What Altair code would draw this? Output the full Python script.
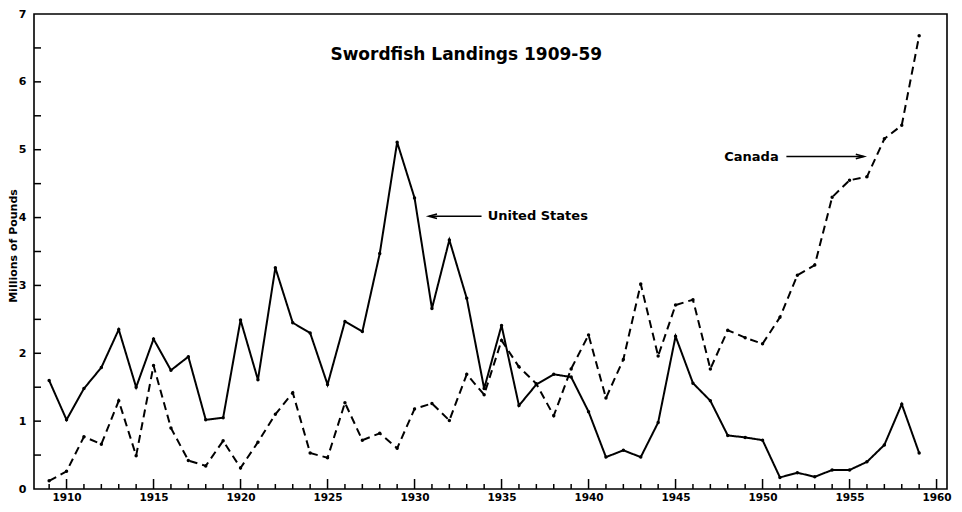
import altair as alt
import pandas as pd

years = list(range(1909, 1960))

us = [1.60, 1.02, 1.48, 1.79, 2.35, 1.50, 2.21, 1.75, 1.95, 1.02,
      1.05, 2.49, 1.61, 3.26, 2.45, 2.30, 1.54, 2.47, 2.32, 3.47,
      5.11, 4.29, 2.66, 3.67, 2.81, 1.48, 2.41, 1.23, 1.54, 1.69,
      1.65, 1.14, 0.47, 0.57, 0.47, 0.98, 2.25, 1.56, 1.30, 0.79,
      0.76, 0.72, 0.17, 0.24, 0.18, 0.28, 0.28, 0.40, 0.65, 1.25,
      0.53]

canada = [0.12, 0.26, 0.77, 0.66, 1.30, 0.49, 1.82, 0.90, 0.42, 0.34,
          0.71, 0.31, 0.69, 1.10, 1.42, 0.53, 0.46, 1.27, 0.72, 0.82,
          0.60, 1.18, 1.26, 1.01, 1.69, 1.39, 2.19, 1.80, 1.55, 1.08,
          1.77, 2.27, 1.34, 1.91, 3.02, 1.96, 2.71, 2.79, 1.77, 2.34,
          2.23, 2.14, 2.53, 3.15, 3.30, 4.30, 4.55, 4.60, 5.16, 5.36,
          6.68]

x_label_years = [1910, 1915, 1920, 1925, 1930, 1935, 1940, 1945, 1950, 1955, 1960]
x_minor_years = [y for y in range(1909, 1961) if y % 5 != 0]
y_tick_values = [0.5, 1, 1.5, 2, 2.5, 3, 3.5, 4, 4.5, 5, 5.5, 6, 6.5]
y_label_values = [0, 1, 2, 3, 4, 5, 6, 7]

title_text = "Swordfish Landings 1909-59"
us_label = "United States"
canada_label = "Canada"

df = pd.DataFrame({
    "year": years * 2,
    "value": us + canada,
    "country": ["United States"] * len(years) + ["Canada"] * len(years),
})

FONT = "DejaVu Sans"
W, H = 913, 475

x_scale = alt.Scale(domain=[1908.13, 1960.6], nice=False, zero=False)
y_scale = alt.Scale(domain=[0, 7], nice=False, zero=True)

X = alt.X("year:Q", scale=x_scale,
          axis=alt.Axis(values=x_label_years, format="d", title=None,
                        labelPadding=3, labelFlush=False, labelFontSize=10.5))
Y = alt.Y("value:Q", scale=y_scale,
          axis=alt.Axis(values=y_label_values, format="d",
                        title="Millions of Pounds", labelPadding=8,
                        titleX=-21, titleY=H / 2 - 6, titleAngle=-90,
                        titleBaseline="middle", titleAlign="center",
                        titleFontSize=11, titleFontWeight="bold",
                        titleFont=FONT))

lines = alt.Chart(df).mark_line(color="black", strokeWidth=2).encode(
    x=X, y=Y,
    strokeDash=alt.StrokeDash(
        "country:N",
        scale=alt.Scale(domain=["United States", "Canada"], range=[[1, 0], [8, 5]]),
        legend=None),
    detail="country:N",
)

dots = alt.Chart(df).mark_circle(color="black", size=12, opacity=1).encode(
    x=alt.X("year:Q", scale=x_scale), y=alt.Y("value:Q", scale=y_scale))

minor_df = pd.DataFrame({"year": x_minor_years})
major_df = pd.DataFrame({"year": x_label_years})
ytick_df = pd.DataFrame({"value": y_tick_values})

x_minor = alt.Chart(minor_df).mark_rule(color="black", strokeWidth=1.5).encode(
    x=alt.X("year:Q", scale=x_scale), y=alt.value(H), y2=alt.value(H - 5))
x_major = alt.Chart(major_df).mark_rule(color="black", strokeWidth=1.5).encode(
    x=alt.X("year:Q", scale=x_scale), y=alt.value(H), y2=alt.value(H - 10))
y_ticks = alt.Chart(ytick_df).mark_rule(color="black", strokeWidth=1.5).encode(
    y=alt.Y("value:Q", scale=y_scale), x=alt.value(0), x2=alt.value(7))

one = pd.DataFrame({"a": [0]})

title = alt.Chart(one).mark_text(
    text=title_text, font=FONT, fontSize=17, fontWeight="bold",
    align="center", baseline="middle", color="black").encode(
    x=alt.datum(1932.97, scale=x_scale), y=alt.datum(6.40, scale=y_scale))

us_text = alt.Chart(one).mark_text(
    text=us_label, font=FONT, fontSize=13, fontWeight="bold",
    align="left", baseline="middle", color="black").encode(
    x=alt.datum(1934.2), y=alt.datum(4.02))
us_line = alt.Chart(one).mark_rule(color="black", strokeWidth=1.5).encode(
    x=alt.datum(1930.85), x2=alt.datum(1933.85), y=alt.datum(4.02))
us_head = alt.Chart(one).mark_point(
    shape="M 1 -0.55 L -1 0 L 1 0.55", filled=False, color="black",
    strokeWidth=1.5, size=70, opacity=1).encode(
    x=alt.datum(1931.05), y=alt.datum(4.02))

ca_text = alt.Chart(one).mark_text(
    text=canada_label, font=FONT, fontSize=13, fontWeight="bold",
    align="left", baseline="middle", color="black").encode(
    x=alt.datum(1947.8), y=alt.datum(4.90))
ca_line = alt.Chart(one).mark_rule(color="black", strokeWidth=1.5).encode(
    x=alt.datum(1951.37), x2=alt.datum(1955.8), y=alt.datum(4.90))
ca_head = alt.Chart(one).mark_point(
    shape="M -1 -0.55 L 1 0 L -1 0.55", filled=False, color="black",
    strokeWidth=1.5, size=70, opacity=1).encode(
    x=alt.datum(1955.6), y=alt.datum(4.90))

chart = alt.layer(
    lines, dots, x_minor, x_major, y_ticks,
    title, us_line, us_head, us_text, ca_line, ca_head, ca_text,
).properties(
    width=W, height=H,
    autosize=alt.AutoSizeParams(type="none"),
    padding={"left": 26, "top": 6, "right": 6, "bottom": 15},
    background="white",
).configure_view(
    stroke="black", strokeWidth=1.6
).configure_axis(
    domain=False, grid=False, ticks=False,
    labelFont=FONT, labelFontSize=11, labelFontWeight="bold",
    labelColor="black", titleColor="black",
)

chart.save("out.html", embed_options={"renderer": "svg", "actions": False})
